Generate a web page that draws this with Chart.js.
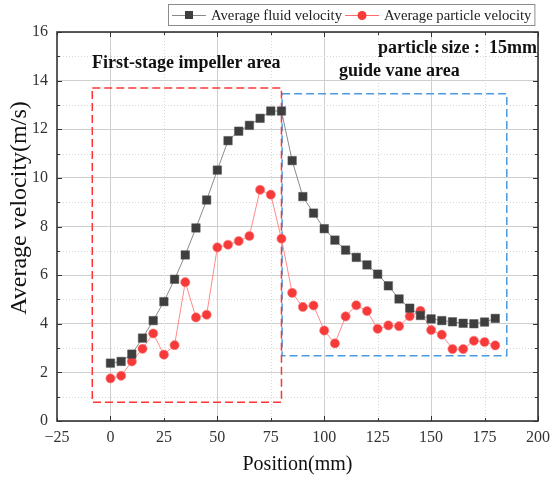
<!DOCTYPE html>
<html>
<head>
<meta charset="utf-8">
<script src="https://cdn.jsdelivr.net/npm/chart.js@4.4.0/dist/chart.umd.min.js"></script>
<style>
  html, body { margin: 0; padding: 0; background: #fff; }
</style>
</head>
<body>
<canvas id="chart" width="557" height="481"></canvas>
<script>
// positions along the flow path (mm)
var positions = [0, 5, 10, 15, 20, 25, 30, 35, 40, 45, 50, 55, 60, 65, 70, 75, 80, 85, 90,
  95, 100, 105, 110, 115, 120, 125, 130, 135, 140, 145, 150, 155, 160, 165, 170, 175, 180];

var fluidVelocity = [2.38, 2.45, 2.75, 3.41, 4.13, 4.91, 5.83, 6.83, 7.94, 9.09, 10.32, 11.53,
  11.92, 12.16, 12.45, 12.75, 12.75, 10.71, 9.23, 8.55, 7.91, 7.44, 7.03, 6.73, 6.42, 6.04,
  5.56, 5.02, 4.64, 4.34, 4.20, 4.13, 4.08, 4.02, 4.00, 4.07, 4.22];

var particleVelocity = [1.75, 1.86, 2.45, 2.97, 3.60, 2.73, 3.12, 5.71, 4.26, 4.37, 7.14, 7.25,
  7.40, 7.61, 9.51, 9.31, 7.50, 5.27, 4.69, 4.75, 3.72, 3.19, 4.30, 4.76, 4.52, 3.79, 3.93,
  3.90, 4.31, 4.53, 3.74, 3.55, 2.96, 2.96, 3.30, 3.25, 3.11];

var seriesNames = ['Average fluid velocity', 'Average particle velocity'];

// region boxes in data units: [xMin, xMax, yMin, yMax]
var impellerBox = [-8.5, 80, 0.77, 13.7];
var vaneBox = [80.3, 185.4, 2.68, 13.46];

var xMin = -25, xMax = 200, xStep = 25;
var yMin = 0, yMax = 16, yStep = 2;

var serif = '"Liberation Serif", "Times New Roman", serif';

function toPoints(values) {
  var pts = [];
  for (var i = 0; i < positions.length; i++) {
    pts.push({ x: positions[i], y: values[i] });
  }
  return pts;
}

// grid minor lines, inward ticks, frame, boxes
var framePlugin = {
  id: 'frame',
  beforeDatasetsDraw: function(chart) {
    var ctx = chart.ctx, a = chart.chartArea;
    var xs = chart.scales.x, ys = chart.scales.y;
    ctx.save();
    // dotted minor grid
    ctx.strokeStyle = '#d8d8d8';
    ctx.lineWidth = 1;
    ctx.setLineDash([1, 2]);
    for (var v = xMin + xStep; v < xMax; v += xStep) {
      if (v % 50 === 0) continue;
      var px = Math.round(xs.getPixelForValue(v)) + 0.5;
      ctx.beginPath(); ctx.moveTo(px, a.top); ctx.lineTo(px, a.bottom); ctx.stroke();
    }
    for (var w = yMin + 1; w < yMax; w += 2) {
      var py = Math.round(ys.getPixelForValue(w)) + 0.5;
      ctx.beginPath(); ctx.moveTo(a.left, py); ctx.lineTo(a.right, py); ctx.stroke();
    }
    // region boxes
    ctx.lineWidth = 1.5;
    ctx.setLineDash([8, 4]);
    var boxes = [[vaneBox, '#4a9be0'], [impellerBox, '#ff3535']];
    boxes.forEach(function(b) {
      var r = b[0];
      var x1 = xs.getPixelForValue(r[0]), x2 = xs.getPixelForValue(r[1]);
      var y1 = ys.getPixelForValue(r[3]), y2 = ys.getPixelForValue(r[2]);
      ctx.strokeStyle = b[1];
      ctx.strokeRect(x1, y1, x2 - x1, y2 - y1);
    });
    ctx.restore();
  },
  afterDraw: function(chart) {
    var ctx = chart.ctx, a = chart.chartArea;
    var xs = chart.scales.x, ys = chart.scales.y;
    ctx.save();
    ctx.strokeStyle = '#333';
    ctx.lineWidth = 1;
    ctx.setLineDash([]);
    // ticks on all four sides, pointing inward
    for (var v = xMin; v <= xMax; v += xStep) {
      var px = Math.round(xs.getPixelForValue(v)) + 0.5;
      var len = (v % 50 === 0) ? 5 : 3;
      ctx.beginPath();
      ctx.moveTo(px, a.bottom); ctx.lineTo(px, a.bottom - len);
      ctx.moveTo(px, a.top); ctx.lineTo(px, a.top + len);
      ctx.stroke();
    }
    for (var w = yMin; w <= yMax; w += 1) {
      var py = Math.round(ys.getPixelForValue(w)) + 0.5;
      var l2 = (w % 2 === 0) ? 5 : 3;
      ctx.beginPath();
      ctx.moveTo(a.left, py); ctx.lineTo(a.left + l2, py);
      ctx.moveTo(a.right, py); ctx.lineTo(a.right - l2, py);
      ctx.stroke();
    }
    ctx.lineWidth = 1.6;
    ctx.strokeRect(a.left, a.top, a.right - a.left, a.bottom - a.top);

    // y axis title (a bit larger than the x title, sits above centre)
    ctx.save();
    ctx.translate(20, 208);
    ctx.rotate(-Math.PI / 2);
    ctx.fillStyle = '#111';
    ctx.font = '24px ' + serif;
    ctx.textAlign = 'center';
    ctx.textBaseline = 'middle';
    ctx.fillText('Average velocity(m/s)', 0, 0);
    ctx.restore();

    // annotations
    ctx.fillStyle = '#111';
    ctx.font = 'bold 18px ' + serif;
    ctx.textBaseline = 'middle';
    ctx.textAlign = 'left';
    ctx.fillText('First-stage impeller area', 92, 63);
    ctx.fillText('guide vane area', 339, 71);
    ctx.textAlign = 'right';
    ctx.fillText('particle size :  15mm', 537, 48);

    // legend
    ctx.font = '14.7px ' + serif;
    ctx.textAlign = 'left';
    var ly = 15;
    var x = 172;
    var items = [
      { name: seriesNames[0], line: '#8a8a8a', fill: '#3e3e3e', rect: true },
      { name: seriesNames[1], line: '#ff6b6b', fill: '#f63a3a', rect: false }
    ];
    var startX = x - 4;
    items.forEach(function(it) {
      ctx.strokeStyle = it.line;
      ctx.lineWidth = 1;
      ctx.beginPath(); ctx.moveTo(x, ly + 0.5); ctx.lineTo(x + 34, ly + 0.5); ctx.stroke();
      ctx.fillStyle = it.fill;
      if (it.rect) {
        ctx.fillRect(x + 17 - 4, ly - 4, 8, 8);
      } else {
        ctx.beginPath(); ctx.arc(x + 17, ly + 0.5, 4.5, 0, Math.PI * 2); ctx.fill();
      }
      ctx.fillStyle = '#222';
      ctx.fillText(it.name, x + 39, ly + 1);
      x += 39 + ctx.measureText(it.name).width + 3;
    });
    ctx.strokeStyle = '#8c8c8c';
    ctx.lineWidth = 1;
    ctx.strokeRect(startX + 0.5, 4.5, x - startX, 21);
    ctx.restore();
  }
};

new Chart(document.getElementById('chart'), {
  type: 'line',
  data: {
    datasets: [{
      label: seriesNames[0],
      data: toPoints(fluidVelocity),
      borderColor: '#8a8a8a',
      borderWidth: 1,
      pointStyle: 'rect',
      pointRadius: 6,
      pointBackgroundColor: '#3e3e3e',
      pointBorderColor: '#555',
      pointBorderWidth: 0.5,
      tension: 0
    }, {
      label: seriesNames[1],
      data: toPoints(particleVelocity),
      borderColor: '#ff8a8a',
      borderWidth: 1,
      pointStyle: 'circle',
      pointRadius: 4.6,
      pointBackgroundColor: '#f63a3a',
      pointBorderColor: '#ff8080',
      pointBorderWidth: 0.6,
      tension: 0
    }]
  },
  options: {
    responsive: false,
    animation: false,
    layout: { padding: { left: 0, right: 15, top: 32, bottom: 0 } },
    plugins: { legend: { display: false }, tooltip: { enabled: false } },
    scales: {
      x: {
        type: 'linear',
        min: xMin,
        max: xMax,
        afterFit: function(scale) { scale.height = 60; },
        ticks: {
          stepSize: xStep,
          padding: 7,
          color: '#333',
          font: { family: serif, size: 16 },
          callback: function(v) { return v < 0 ? '\u2212' + Math.abs(v) : v; }
        },
        grid: {
          drawTicks: false,
          color: function(c) { return (c.tick && c.tick.value % 50 === 0) ? '#cfcfcf' : 'rgba(0,0,0,0)'; }
        },
        border: { display: false },
        title: {
          display: true,
          text: 'Position(mm)',
          color: '#111',
          font: { family: serif, size: 20, lineHeight: 1.2 },
          padding: { top: 0, bottom: 4 }
        }
      },
      y: {
        min: yMin,
        max: yMax,
        afterFit: function(scale) { scale.width = 57; },
        ticks: {
          stepSize: yStep,
          padding: 9,
          color: '#333',
          font: { family: serif, size: 16 }
        },
        grid: { drawTicks: false, color: '#cfcfcf' },
        border: { display: false },
        title: { display: false }
      }
    }
  },
  plugins: [framePlugin]
});
</script>
</body>
</html>
